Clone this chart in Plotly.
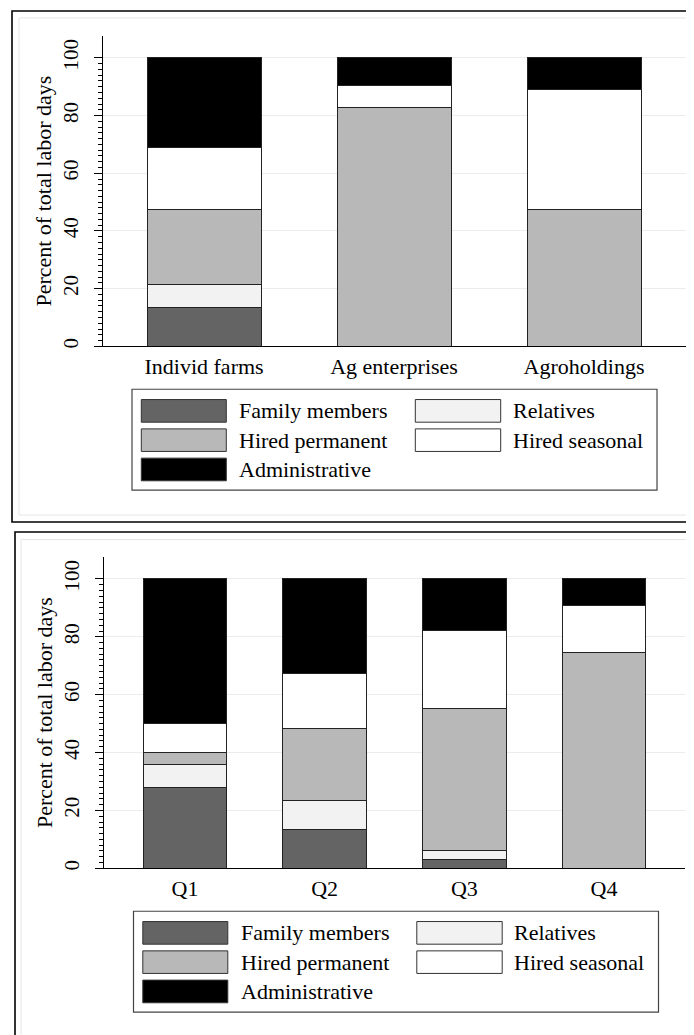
import plotly.graph_objects as go

# ---------------- data ----------------
series_names = ["Family members", "Relatives", "Hired permanent", "Hired seasonal", "Administrative"]
series_colors = ["#646464", "#f2f2f2", "#b8b8b8", "#ffffff", "#000000"]

cats_top = ["Individ farms", "Ag enterprises", "Agroholdings"]
family_top = [13.5, 0.0, 0.0]
relatives_top = [8.1, 0.0, 0.0]
hired_perm_top = [25.8, 82.7, 47.4]
hired_seas_top = [21.7, 7.8, 41.6]
admin_top = [30.9, 9.5, 11.0]

cats_bot = ["Q1", "Q2", "Q3", "Q4"]
family_bot = [28.0, 13.3, 3.1, 0.0]
relatives_bot = [7.9, 10.3, 2.9, 0.0]
hired_perm_bot = [4.0, 24.8, 49.2, 74.5]
hired_seas_bot = [10.1, 19.0, 26.9, 16.2]
admin_bot = [50.0, 32.6, 17.9, 9.3]

y_ticks = [0, 20, 40, 60, 80, 100]
y_title = "Percent of total labor days"

# ---------------- figure ----------------
W, H = 694, 1035
FONT = "Liberation Serif, Times New Roman, serif"

def px_x(v):
    return v / W

def px_y(v):
    return 1 - v / H

fig = go.Figure()

top_series = [family_top, relatives_top, hired_perm_top, hired_seas_top, admin_top]
bot_series = [family_bot, relatives_bot, hired_perm_bot, hired_seas_bot, admin_bot]

for name, color, vals in zip(series_names, series_colors, top_series):
    fig.add_trace(go.Bar(x=cats_top, y=vals, name=name, marker_color=color,
                         marker_line=dict(color="#222222", width=1),
                         xaxis="x", yaxis="y", showlegend=False))
for name, color, vals in zip(series_names, series_colors, bot_series):
    fig.add_trace(go.Bar(x=cats_bot, y=vals, name=name, marker_color=color,
                         marker_line=dict(color="#222222", width=1),
                         xaxis="x2", yaxis="y2", showlegend=False))

minor_vals = [v for v in range(0, 101, 2) if v % 20 != 0]

def yaxis_cfg(domain, anchor):
    return dict(
        domain=domain, anchor=anchor, range=[0, 107.6],
        tickmode="array", tickvals=y_ticks, ticktext=[str(v) for v in y_ticks],
        tickangle=-90, ticks="outside", ticklen=8, tickwidth=1, tickcolor="black",
        tickfont=dict(family=FONT, size=21, color="black"),
        ticklabelstandoff=8,
        showline=True, linecolor="black", linewidth=1,
        showgrid=True, gridcolor="#ececec", gridwidth=1.2,
        zeroline=False,
        minor=dict(tickmode="array", tickvals=minor_vals, ticks="outside",
                   ticklen=4, tickcolor="black", tickwidth=1, showgrid=False),
        title=dict(text=y_title, font=dict(family=FONT, size=22, color="black"), standoff=0),
        fixedrange=True,
    )

def xaxis_cfg(domain, anchor, rng):
    return dict(
        domain=domain, anchor=anchor, range=rng, type="category",
        showline=True, linecolor="black", linewidth=1, ticks="",
        tickfont=dict(family=FONT, size=22, color="black"),
        showgrid=False, zeroline=False, ticklabelstandoff=0, fixedrange=True,
    )

fig.update_layout(
    width=W, height=H, margin=dict(l=0, r=0, t=0, b=0),
    paper_bgcolor="white", plot_bgcolor="white",
    barmode="stack", bargap=0.4,
    font=dict(family=FONT, size=22, color="black"),
    xaxis=xaxis_cfg([px_x(95), px_x(679)], "y", [-0.532, 2.542]),
    yaxis=yaxis_cfg([px_y(339), px_y(28)], "x"),
    xaxis2=xaxis_cfg([px_x(96), px_x(677)], "y2", [-0.58, 3.58]),
    yaxis2=yaxis_cfg([px_y(862), px_y(550)], "x2"),
    showlegend=False,
)

shapes = []
annotations = []

def rect(x0, y0, x1, y1, line_color, line_width, fill=None, layer="above"):
    shapes.append(dict(type="rect", xref="paper", yref="paper",
                       x0=px_x(x0), x1=px_x(x1), y0=px_y(y1), y1=px_y(y0),
                       line=dict(color=line_color, width=line_width),
                       fillcolor=fill if fill else "rgba(0,0,0,0)", layer=layer))

# panel borders
rect(4, 3, 720, 515, "black", 1.6, layer="below")
rect(11, 10, 712, 508, "#e6e6e6", 1, layer="below")
rect(7, 525, 700, 1040, "black", 1.6, layer="below")
rect(13, 532.5, 690, 1031, "#e6e6e6", 1, layer="below")

# legends
def legend(dx, dy):
    rect(124 + dx, 382 + dy, 649 + dx, 483 + dy, "#444444", 1.2)
    cols = [(133.3, 218.3, 229.3), (407.3, 492.7, 502.7)]
    rows = [(392.3, 415.0), (421.7, 444.3), (451.0, 473.7)]
    order = [(0, 0), (0, 1), (1, 0), (1, 1), (2, 0)]
    for (r, c), name, color in zip(order, series_names, series_colors):
        sx0, sx1, tx = cols[c]
        ry0, ry1 = rows[r]
        rect(sx0 + dx, ry0 + dy, sx1 + dx, ry1 + dy, "#333333", 1, fill=color)
        annotations.append(dict(xref="paper", yref="paper",
                                x=px_x(tx + dx), y=px_y((ry0 + ry1) / 2 + dy),
                                text=name, showarrow=False, xanchor="left", yanchor="middle",
                                font=dict(family=FONT, size=22, color="black")))

legend(0, 0)
legend(1.5, 523)

fig.update_layout(shapes=shapes, annotations=annotations)
fig.write_html("out.html")
